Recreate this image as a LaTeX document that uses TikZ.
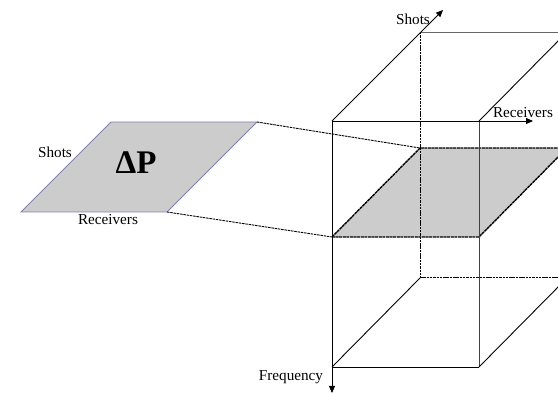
\documentclass[tikz,border=0pt]{standalone}
\usepackage{fontspec}
\setmainfont{Liberation Serif}
\usetikzlibrary{arrows.meta}
\definecolor{slicegray}{RGB}{204,204,204}
\definecolor{edgeblue}{RGB}{130,130,175}
\tikzset{
  edge/.style={line width=0.9pt, black},
  hidden/.style={line width=1pt, black, dash pattern=on 2.5pt off 0.8pt},
  sliceedge/.style={line width=1.4pt, black, dash pattern=on 3pt off 0.6pt},
  axis/.style={line width=0.9pt, black, -{Triangle[length=7pt,width=6pt]}},
  lbl/.style={font=\fontsize{15.2}{17}\selectfont, inner sep=0pt}
}
\begin{document}
\begin{tikzpicture}[x=1pt,y=-1pt]
\useasboundingbox (0,0) rectangle (558,393);
\clip (0,0) rectangle (558,393);
% cube corners
\coordinate (FTL) at (332,121);
\coordinate (FTR) at (479,121);
\coordinate (FBL) at (332,367);
\coordinate (FBR) at (479,367);
\coordinate (BTL) at (420,32);
\coordinate (BTR) at (567,32);
\coordinate (BBL) at (420,278);
\coordinate (BBR) at (567,278);
% slice corners
\coordinate (SFL) at (332,237);
\coordinate (SFR) at (479,237);
\coordinate (SBL) at (420,148);
\coordinate (SBR) at (567,148);
% axis ends
\coordinate (ShotsEnd) at (443,10);
\coordinate (RecEnd) at (533,121);
\coordinate (FreqEnd) at (332,393);
% left plane
\coordinate (PTL) at (111,122);
\coordinate (PTR) at (257,122);
\coordinate (PBR) at (167,212);
\coordinate (PBL) at (21,212);

% slice
\fill[slicegray] (SFL) -- (SFR) -- (SBR) -- (SBL) -- cycle;
% hidden edges
\draw[hidden] (BTL) -- (BBL);
\draw[hidden] (BBL) -- (BBR);
% slice edges
\draw[sliceedge] (SFL) -- (SFR) -- (SBR);
\draw[sliceedge] (SFL) -- (SBL) -- (SBR);
% visible cube edges
\draw[edge] (FBL) -- (FBR);
\draw[edge, black!75] (FTR) -- (FBR);
\draw[edge] (FTR) -- (BTR);
\draw[edge, black!60] (BTL) -- (BTR);
\draw[edge] (FBL) -- (BBL);
\draw[edge] (FBR) -- (BBR);
% axes
\draw[axis] (FTL) -- (ShotsEnd);
\draw[axis] (FTL) -- (RecEnd);
\draw[axis] (FTL) -- (FreqEnd);
% left plane
\filldraw[fill=slicegray, draw=edgeblue, line width=0.8pt] (PTL) -- (PTR) -- (PBR) -- (PBL) -- cycle;
% connectors
\draw[hidden, line width=0.9pt] (PTR) -- (SBL);
\draw[hidden, line width=0.9pt] (PBR) -- (SFL);
% labels
\node[font=\fontsize{33}{35}\selectfont\bfseries, inner sep=0pt] (dp) at (136,163) {ΔP};
\node[lbl] (lshots) at (55,152) {Shots};
\node[lbl] (lrec) at (108,220) {Receivers};
\node[lbl] (cshots) at (413,19) {Shots};
\node[lbl] (crec) at (523,113) {Receivers};
\node[lbl] (cfreq) at (291,377) {Frequency};
\end{tikzpicture}
\end{document}
